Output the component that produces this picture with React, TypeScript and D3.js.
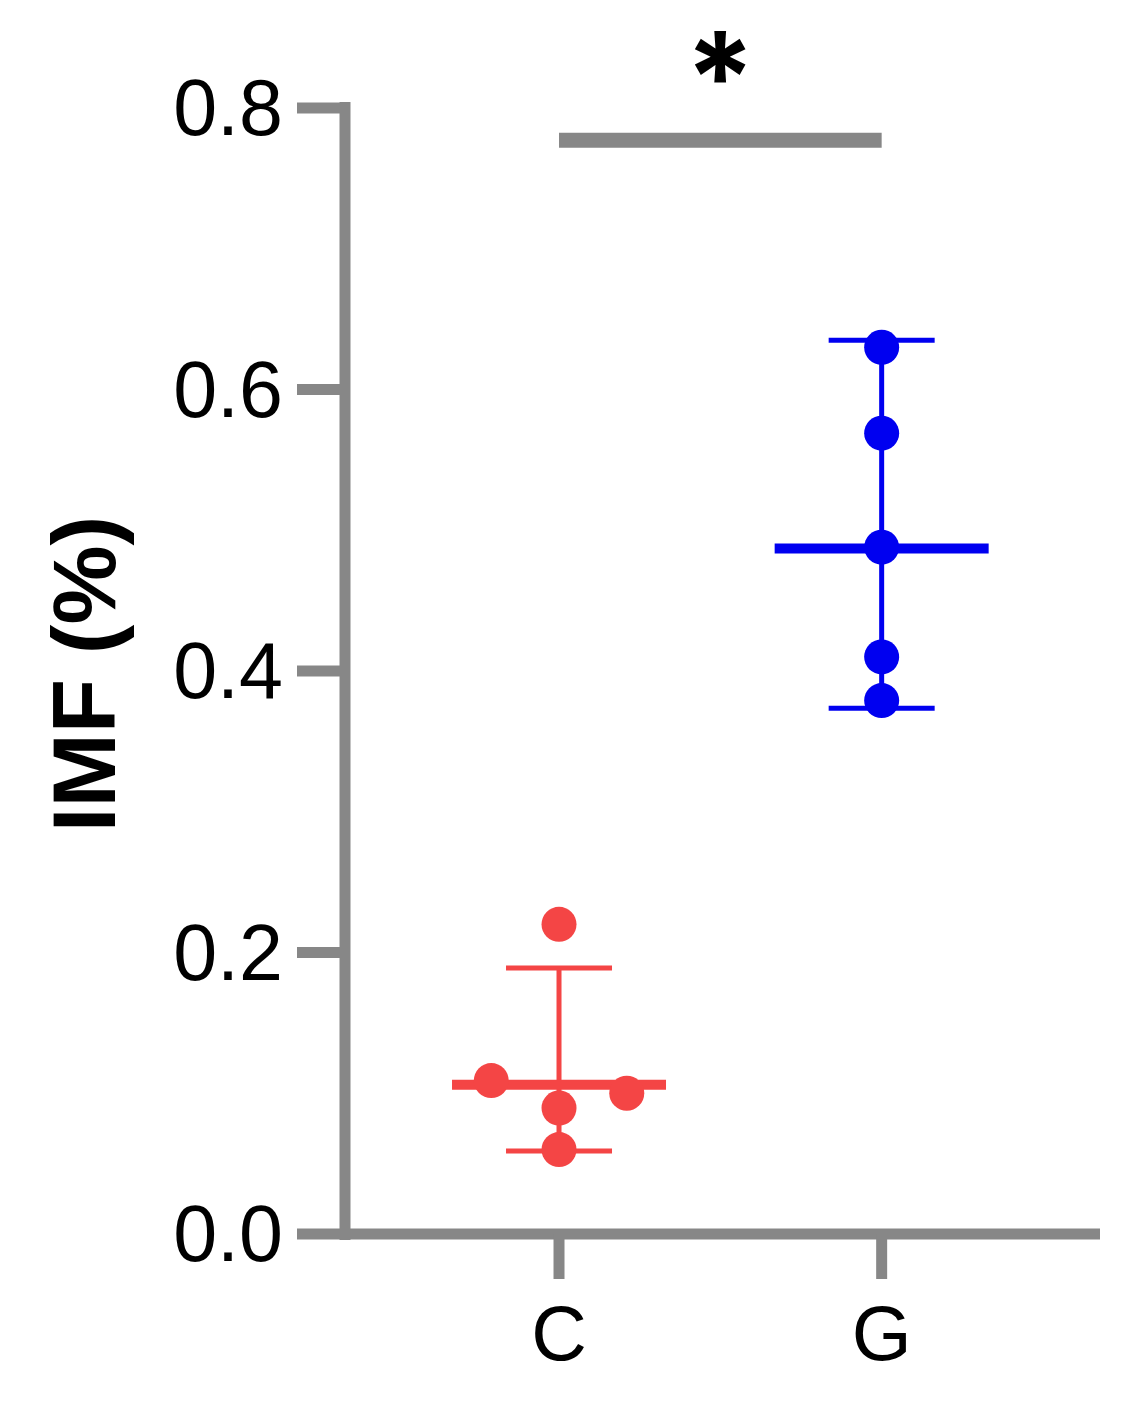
import React from "react";
import * as d3 from "d3";

const WIDTH = 1148;
const HEIGHT = 1406;

const groups = ["C", "G"];
const groupColors = ["#f44545", "#0000f0"];
const yTicks = [0, 0.2, 0.4, 0.6, 0.8];

// individual samples (IMF %), jitter is -1/0/1 slot beside the group centre
const cValues = [0.22, 0.109, 0.1, 0.0895, 0.06];
const cJitter = [0, -1, 1, 0, 0];
const gValues = [0.63, 0.569, 0.488, 0.41, 0.379];
const gJitter = [0, 0, 0, 0, 0];

// centre line and error bar ends per group
const centerValues = [0.106, 0.487];
const errLow = [0.059, 0.3735];
const errHigh = [0.189, 0.635];

const sigLevel = 0.777;
const sigLabel = "*";

const AXIS = "#878787";
const FONT = "'Liberation Sans', Arial, sans-serif";

const yScale = d3.scaleLinear().domain([0, 0.8]).range([1234, 108]);
const xScale = d3
  .scalePoint<string>()
  .domain(groups)
  .range([345, 1100])
  .padding(0.67)
  .align(0.495);

const App = () => {
  const axisX = xScale.range()[0];
  const axisRight = xScale.range()[1];
  const y0 = yScale(0);
  const step = xScale.step();
  const samples = [
    { values: cValues, jitter: cJitter },
    { values: gValues, jitter: gJitter }
  ];

  return (
    <svg
      width={WIDTH}
      height={HEIGHT}
      style={{ position: "absolute", left: 0, top: 0, background: "#fff" }}
    >
      {/* y axis */}
      <line x1={axisX} y1={yScale(0.8) - 6} x2={axisX} y2={y0 + 6} stroke={AXIS} strokeWidth={11} />
      {yTicks.map((t) => (
        <g key={t} transform={`translate(0, ${yScale(t)})`}>
          <line x1={axisX - 48} x2={axisX} y1={0} y2={0} stroke={AXIS} strokeWidth={11} />
          <text
            x={axisX - 62}
            y={27}
            textAnchor="end"
            style={{ fontSize: 79, fontFamily: FONT }}
            fill="#000"
          >
            {t.toFixed(1)}
          </text>
        </g>
      ))}

      {/* x axis */}
      <line x1={axisX} y1={y0} x2={axisRight} y2={y0} stroke={AXIS} strokeWidth={11} />
      {groups.map((g) => (
        <g key={g} transform={`translate(${xScale(g)}, 0)`}>
          <line x1={0} x2={0} y1={y0} y2={y0 + 45} stroke={AXIS} strokeWidth={11} />
          <text
            x={0}
            y={y0 + 126}
            textAnchor="middle"
            style={{ fontSize: 77, fontFamily: FONT }}
            fill="#000"
          >
            {g}
          </text>
        </g>
      ))}

      {/* y label */}
      <text
        transform={`translate(115, ${yScale(0.4) + 3}) rotate(-90)`}
        textAnchor="middle"
        style={{ fontSize: 89, fontFamily: FONT, fontWeight: "bold" }}
        fill="#000"
      >
        IMF (%)
      </text>

      {/* error bars and centre lines */}
      {groups.map((g, i) => {
        const cx = xScale(g) as number;
        const color = groupColors[i];
        return (
          <g key={g}>
            <line x1={cx} x2={cx} y1={yScale(errLow[i])} y2={yScale(errHigh[i])} stroke={color} strokeWidth={5} />
            <line x1={cx - 53} x2={cx + 53} y1={yScale(errLow[i])} y2={yScale(errLow[i])} stroke={color} strokeWidth={5} />
            <line x1={cx - 53} x2={cx + 53} y1={yScale(errHigh[i])} y2={yScale(errHigh[i])} stroke={color} strokeWidth={5} />
            <line x1={cx - 107} x2={cx + 107} y1={yScale(centerValues[i])} y2={yScale(centerValues[i])} stroke={color} strokeWidth={10} />
          </g>
        );
      })}

      {/* points */}
      {groups.map((g, i) =>
        samples[i].values.map((v, j) => (
          <circle
            key={`${g}-${j}`}
            cx={(xScale(g) as number) + samples[i].jitter[j] * step * 0.21}
            cy={yScale(v)}
            r={17.5}
            fill={groupColors[i]}
          />
        ))
      )}

      {/* significance */}
      <line
        x1={xScale(groups[0])}
        x2={xScale(groups[1])}
        y1={yScale(sigLevel)}
        y2={yScale(sigLevel)}
        stroke={AXIS}
        strokeWidth={15}
      />
      <text
        x={((xScale(groups[0]) as number) + (xScale(groups[1]) as number)) / 2}
        y={yScale(sigLevel) - 17}
        textAnchor="middle"
        style={{ fontSize: 126, fontFamily: "Inter, 'Liberation Sans', sans-serif", fontWeight: "bold" }}
        fill="#000"
      >
        {sigLabel}
      </text>
    </svg>
  );
};

export default App;
